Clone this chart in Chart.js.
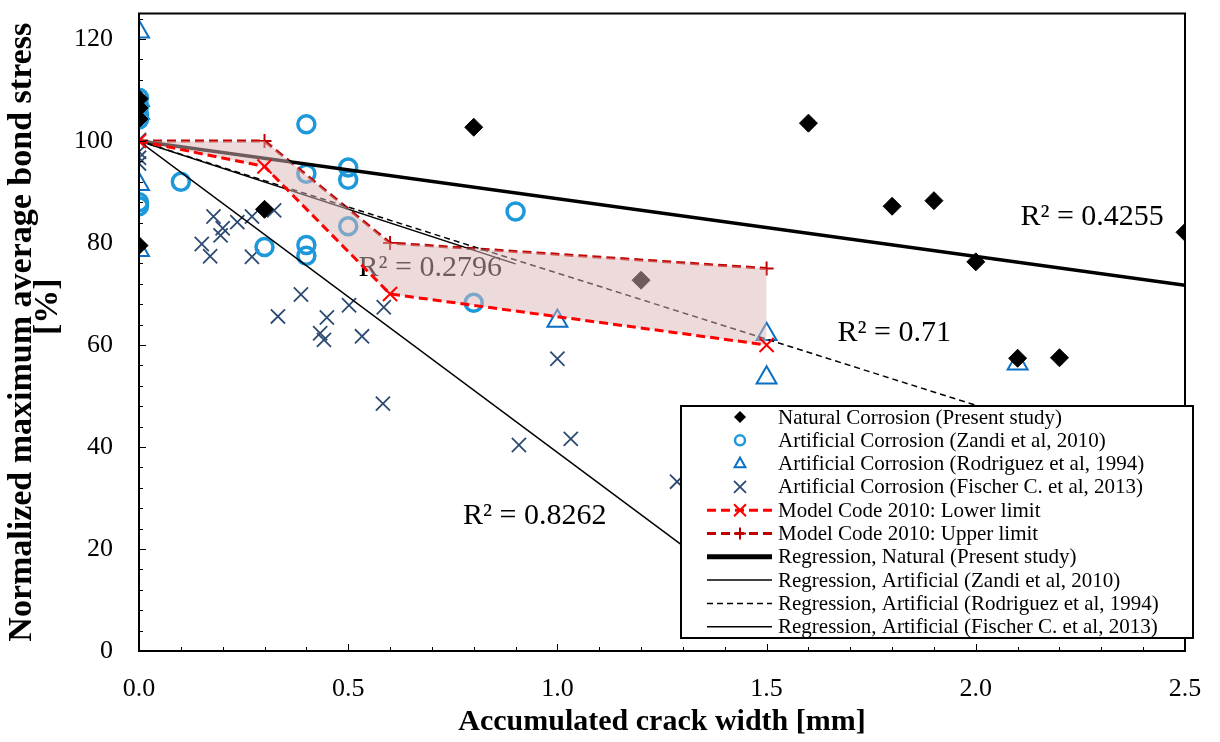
<!DOCTYPE html>
<html>
<head>
<meta charset="utf-8">
<script src="https://cdn.jsdelivr.net/npm/chart.js@4.4.1/dist/chart.umd.min.js"></script>
<style>
  body { margin: 0; background: #fff; }
  #wrap { width: 1220px; height: 742px; }
</style>
</head>
<body>
<div id="wrap"><canvas id="bondChart"></canvas></div>
<script>
var serif = "'Liberation Serif', 'Times New Roman', serif";

// Natural corrosion (present study)
var naturalX = [0, 0, 0, 0, 0.3, 0.8, 1.2, 1.6, 1.8, 1.9, 2.0, 2.1, 2.2, 2.5];
var naturalY = [108.3, 106.5, 104.3, 79.5, 86.6, 102.7, 72.7, 103.5, 87.2, 88.3, 76.3, 57.4, 57.5, 82.1];

// Artificial corrosion (Zandi et al, 2010)
var zandiX = [0, 0, 0, 0, 0, 0, 0.1, 0.3, 0.4, 0.4, 0.4, 0.4, 0.5, 0.5, 0.5, 0.8, 0.9];
var zandiY = [108.5, 106.8, 105.3, 104.2, 88.0, 87.2, 92.0, 79.2, 103.3, 93.6, 79.6, 77.5, 94.8, 92.4, 83.3, 68.3, 86.2];

// Artificial corrosion (Rodriguez et al, 1994)
var rodriguezX = [0, 0, 0, 0, 0, 1.0, 1.5, 1.5, 2.1];
var rodriguezY = [121.4, 108.0, 105.5, 91.5, 78.6, 64.7, 62.1, 53.6, 56.3];

// Artificial corrosion (Fischer C. et al, 2013)
var fischerX = [0, 0, 0, 0, 0.15, 0.17, 0.178, 0.195, 0.2, 0.235, 0.27, 0.27, 0.323, 0.332, 0.387,
                0.433, 0.442, 0.449, 0.502, 0.533, 0.583, 0.585, 0.908, 1.0, 1.032, 1.286];
var fischerY = [100.2, 97.9, 96.7, 95.6, 79.8, 77.4, 85.2, 81.5, 82.9, 84.1, 85.2, 77.3, 86.4, 65.6, 69.9,
                62.3, 61.0, 65.4, 67.8, 61.7, 48.5, 67.4, 40.4, 57.3, 41.6, 33.2];

// Model Code 2010 limits
var mcX = [0, 0.3, 0.6, 1.5];
var mcLowerY = [100, 95, 70, 60];
var mcUpperY = [100, 100, 80, 75];

// regression lines (end points)
var regNatX = [0, 2.5],   regNatY = [100, 71.7];
var regZandiX = [0, 0.9], regZandiY = [100, 75.9];
var regRodX = [0, 2.1],   regRodY = [100, 45.6];
var regFisX = [0, 1.5],   regFisY = [100, 8.4];

// R² values shown on the plot
var r2Labels = ['R² = 0.4255', 'R² = 0.71', 'R² = 0.2796', 'R² = 0.8262'];

var xTicks = [0, 0.5, 1.0, 1.5, 2.0, 2.5];
var yTicks = [0, 20, 40, 60, 80, 100, 120];

function pts(xs, ys) {
    return xs.map(function (x, i) { return { x: x, y: ys[i] }; });
}

// where the R² texts sit, in data units
var r2Anchor = [[2.278, 85.0], [1.805, 62.3], [0.696, 75.0], [0.946, 26.4]];

var r2Plugin = {
    id: 'r2Text',
    beforeDatasetsDraw: function (chart) {
        var c = chart.ctx, sx = chart.scales.x, sy = chart.scales.y;
        c.save();
        c.font = '30px ' + serif;
        c.fillStyle = '#000';
        c.textAlign = 'center';
        c.textBaseline = 'middle';
        r2Labels.forEach(function (t, i) {
            c.fillText(t, sx.getPixelForValue(r2Anchor[i][0]), sy.getPixelForValue(r2Anchor[i][1]));
        });
        c.restore();
    }
};

var frameTicks = {
    id: 'frameTicks',
    afterDatasetsDraw: function (chart) {
        var a = chart.chartArea, c = chart.ctx, sx = chart.scales.x, sy = chart.scales.y;
        c.save();
        c.strokeStyle = '#000';
        c.lineWidth = 1;
        c.beginPath();
        for (var i = 0; i <= 25; i++) {
            var px = Math.round(sx.getPixelForValue(i / 10)) + 0.5;
            var len = (i % 5 === 0) ? 7 : 4;
            c.moveTo(px, a.bottom);
            c.lineTo(px, a.bottom - len);
        }
        for (var j = 0; j <= 31; j++) {
            var py = Math.round(sy.getPixelForValue(j * 4)) + 0.5;
            var l2 = (j % 5 === 0) ? 7 : 4;
            c.moveTo(a.left, py);
            c.lineTo(a.left + l2, py);
        }
        c.stroke();
        c.lineWidth = 2;
        c.strokeRect(a.left, a.top, a.right - a.left, a.bottom - a.top);
        c.restore();
    }
};

function marker(c, style, x, y, r) {
    c.beginPath();
    if (style === 'rectRot') {
        c.moveTo(x, y - r); c.lineTo(x + r, y); c.lineTo(x, y + r); c.lineTo(x - r, y); c.closePath();
        c.fill();
    } else if (style === 'circle') {
        c.arc(x, y, r, 0, Math.PI * 2);
        c.stroke();
    } else if (style === 'triangle') {
        c.moveTo(x, y - r); c.lineTo(x + r * 0.9, y + r * 0.6); c.lineTo(x - r * 0.9, y + r * 0.6); c.closePath();
        c.stroke();
    } else if (style === 'crossRot') {
        c.moveTo(x - r, y - r); c.lineTo(x + r, y + r);
        c.moveTo(x + r, y - r); c.lineTo(x - r, y + r);
        c.stroke();
    } else if (style === 'cross') {
        c.moveTo(x - r, y); c.lineTo(x + r, y);
        c.moveTo(x, y - r); c.lineTo(x, y + r);
        c.stroke();
    }
}

var boxLegend = {
    id: 'boxLegend',
    afterDraw: function (chart) {
        var c = chart.ctx;
        var left = 681, top = 406, w = 512, h = 232;
        c.save();
        c.fillStyle = '#fff';
        c.fillRect(left, top, w, h);
        c.strokeStyle = '#000';
        c.lineWidth = 2;
        c.strokeRect(left, top, w, h);
        c.font = '21px ' + serif;
        c.textBaseline = 'middle';
        c.textAlign = 'left';
        for (var i = 0; i < 10; i++) {
            var ds = chart.data.datasets[i];
            var y = top + 11 + i * 23.3;
            c.strokeStyle = ds.borderColor;
            c.fillStyle = ds.borderColor;
            if (ds.showLine !== false) {
                c.lineWidth = i === 6 ? 5 : ds.borderWidth;
                c.setLineDash(ds.borderDash || []);
                c.beginPath();
                c.moveTo(707, y);
                c.lineTo(772, y);
                c.stroke();
                c.setLineDash([]);
            }
            if (ds.pointRadius > 0) {
                c.lineWidth = Math.min(ds.pointBorderWidth, 2.5);
                c.strokeStyle = ds.pointBorderColor;
                c.fillStyle = ds.pointBackgroundColor;
                marker(c, ds.pointStyle, 740, y, ds.pointStyle === 'circle' ? 5 : 6);
            }
            c.fillStyle = '#000';
            c.fillText(ds.label, 778, y + 1);
        }
        c.restore();
    }
};

var scatterBase = { showLine: false, pointHoverRadius: 0 };

var datasets = [
    Object.assign({
        label: 'Natural Corrosion (Present study)',
        data: pts(naturalX, naturalY),
        borderColor: '#000', pointStyle: 'rectRot', pointRadius: 9,
        pointBackgroundColor: '#000', pointBorderColor: '#000', pointBorderWidth: 1, order: 5
    }, scatterBase),
    Object.assign({
        label: 'Artificial Corrosion (Zandi et al, 2010)',
        data: pts(zandiX, zandiY),
        borderColor: '#1d98da', pointStyle: 'circle', pointRadius: 8.5,
        pointBackgroundColor: 'rgba(0,0,0,0)', pointBorderColor: '#1d98da', pointBorderWidth: 3.5, order: 6
    }, scatterBase),
    Object.assign({
        label: 'Artificial Corrosion (Rodriguez et al, 1994)',
        data: pts(rodriguezX, rodriguezY),
        borderColor: '#0a6fc2', pointStyle: 'triangle', pointRadius: 11.5,
        pointBackgroundColor: 'rgba(0,0,0,0)', pointBorderColor: '#0a6fc2', pointBorderWidth: 2, order: 7
    }, scatterBase),
    Object.assign({
        label: 'Artificial Corrosion (Fischer C. et al, 2013)',
        data: pts(fischerX, fischerY),
        borderColor: '#2d4a73', pointStyle: 'crossRot', pointRadius: 10,
        pointBackgroundColor: '#2d4a73', pointBorderColor: '#2d4a73', pointBorderWidth: 1.8, order: 8
    }, scatterBase),
    {
        label: 'Model Code 2010: Lower limit',
        data: pts(mcX, mcLowerY),
        borderColor: '#ff0000', borderWidth: 3, borderDash: [9, 5], tension: 0,
        pointStyle: 'crossRot', pointRadius: 10, pointBorderColor: '#ff0000',
        pointBackgroundColor: '#ff0000', pointBorderWidth: 2, pointHoverRadius: 0, order: 0
    },
    {
        label: 'Model Code 2010: Upper limit',
        data: pts(mcX, mcUpperY),
        borderColor: '#c00000', borderWidth: 3, borderDash: [9, 5], tension: 0,
        pointStyle: 'cross', pointRadius: 7, pointBorderColor: '#c00000',
        pointBackgroundColor: '#c00000', pointBorderWidth: 2, pointHoverRadius: 0, order: 4
    },
    {
        label: 'Regression, Natural (Present study)',
        data: pts(regNatX, regNatY),
        borderColor: '#000', borderWidth: 3.5, pointRadius: 0, order: 2
    },
    {
        label: 'Regression, Artificial (Zandi et al, 2010)',
        data: pts(regZandiX, regZandiY),
        borderColor: '#000', borderWidth: 1.5, pointRadius: 0, order: 3
    },
    {
        label: 'Regression, Artificial (Rodriguez et al, 1994)',
        data: pts(regRodX, regRodY),
        borderColor: '#000', borderWidth: 1.5, borderDash: [6, 4], pointRadius: 0, order: 3
    },
    {
        label: 'Regression, Artificial (Fischer C. et al, 2013)',
        data: pts(regFisX, regFisY),
        borderColor: '#000', borderWidth: 1.5, pointRadius: 0, order: 3
    },
    {
        // shaded band between the Model Code limits
        label: 'band',
        data: pts(mcX, mcUpperY),
        borderColor: 'rgba(0,0,0,0)', borderWidth: 0, pointRadius: 0,
        backgroundColor: 'rgba(220,182,182,0.5)', fill: 4, order: 1
    }
];

var ctx = document.getElementById('bondChart').getContext('2d');
var bondChart = new Chart(ctx, {
    type: 'line',
    data: { datasets: datasets },
    options: {
        responsive: true,
        maintainAspectRatio: false,
        animation: false,
        events: [],
        layout: { padding: { top: 7, right: 35, left: 0, bottom: 0 } },
        plugins: {
            legend: { display: false },
            tooltip: { enabled: false }
        },
        scales: {
            x: {
                type: 'linear', min: 0, max: 2.5,
                grid: { display: false },
                border: { color: '#000', width: 2 },
                afterBuildTicks: function (s) { s.ticks = xTicks.map(function (v) { return { value: v }; }); },
                ticks: {
                    color: '#000', padding: 15, maxRotation: 0,
                    font: { family: serif, size: 26 },
                    callback: function (v) { return Number(v).toFixed(1); }
                },
                title: {
                    display: true, text: 'Accumulated crack width [mm]', color: '#000',
                    font: { family: serif, size: 30, weight: 'bold' }, padding: { top: 0, bottom: 2 }
                },
                afterFit: function (s) {
                    s.height = 91;
                    s.paddingLeft = 0;
                    s.paddingRight = 0;
                }
            },
            y: {
                min: 0, max: 125,
                grid: { display: false },
                border: { color: '#000', width: 2 },
                afterBuildTicks: function (s) { s.ticks = yTicks.map(function (v) { return { value: v }; }); },
                ticks: {
                    color: '#000', padding: 18,
                    font: { family: serif, size: 26 }
                },
                title: {
                    display: true, text: ['Normalized maximum average bond stress', '      [%]'], color: '#000',
                    font: { family: serif, size: 34, weight: 'bold', lineHeight: 0.77 }, padding: { top: 9, bottom: 0 }
                },
                afterFit: function (s) {
                    s.width = 139;
                    s.paddingTop = 0;
                    s.paddingBottom = 0;
                }
            }
        }
    },
    plugins: [r2Plugin, frameTicks, boxLegend]
});
</script>
</body>
</html>
